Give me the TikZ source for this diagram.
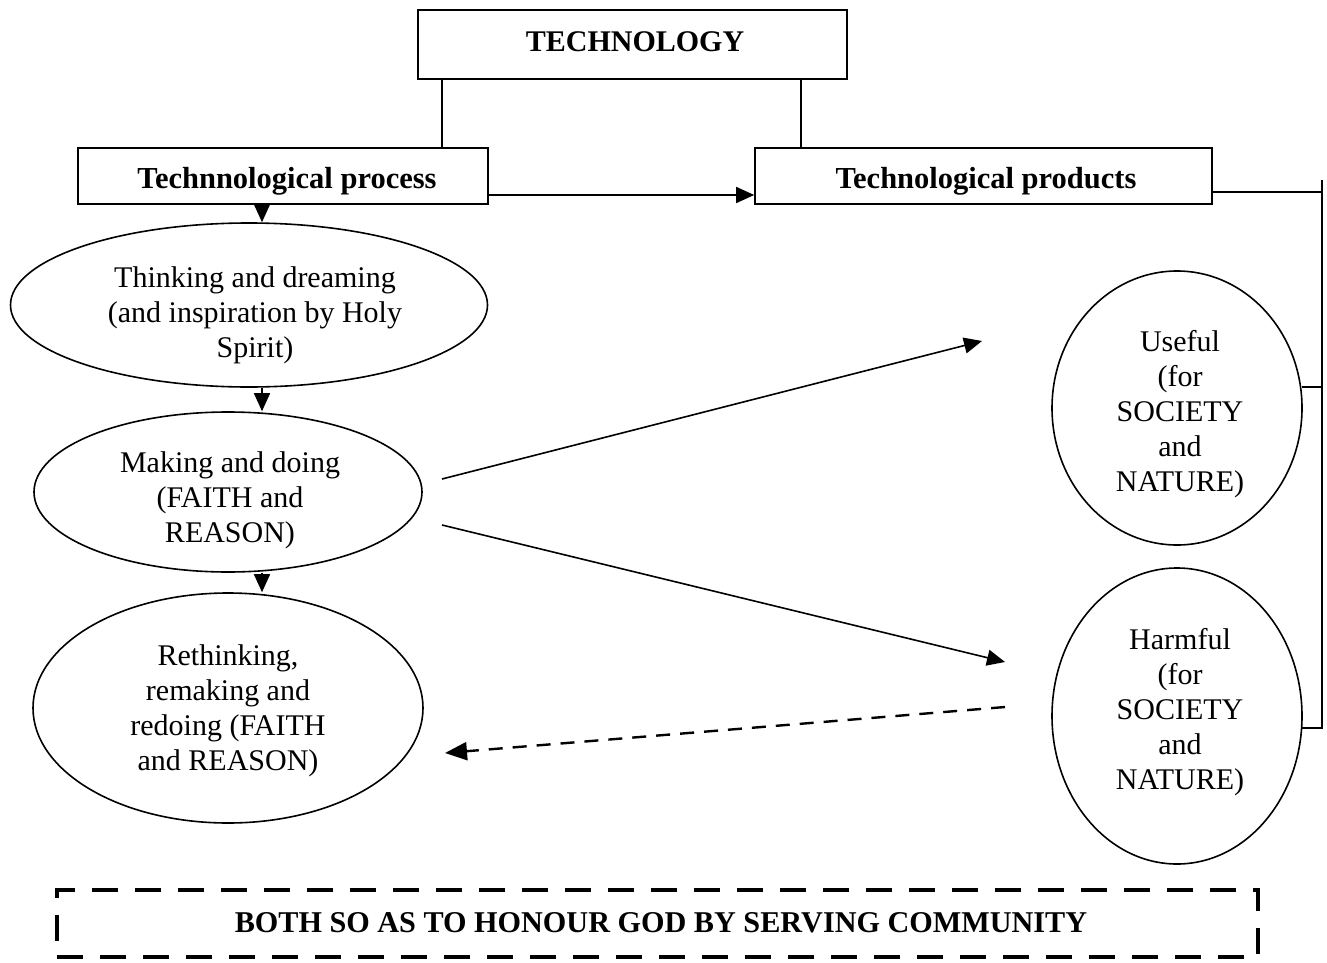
\documentclass[tikz,border=0pt]{standalone}
\usepackage{fontspec}
\setmainfont{Liberation Serif}
\usetikzlibrary{arrows.meta,shapes.geometric}
\begin{document}
\begin{tikzpicture}[x=1pt,y=-1pt,
  every node/.style={font=\fontsize{30}{35}\selectfont},
  txt/.style={align=center,inner sep=0pt},
  ln/.style={line width=1.6pt},
  boxn/.style={draw,line width=1.6pt,inner sep=0pt},
  btxt/.style={inner sep=0pt,font=\fontsize{30.5}{35}\selectfont\bfseries},
  ell/.style={draw,ellipse,line width=1.6pt,inner sep=0pt},
  arr/.style={line width=1.6pt,-{Triangle[length=18pt,width=16pt]}},
  darr/.style={line width=2.4pt,dash pattern=on 14pt off 10pt,-{Triangle[length=22pt,width=18pt]}}]
\useasboundingbox (0,0) rectangle (1327,963);
\node[boxn,minimum width=429pt,minimum height=69pt] (tech) at (632.5,44.5) {};
\node[btxt,font=\fontsize{30}{35}\selectfont\bfseries] (techt) at (635,42) {TECHNOLOGY};
\node[boxn,minimum width=410pt,minimum height=56pt] (proc) at (283,176) {};
\node[btxt] (proct) at (287,181) {Technnological process};
\node[boxn,minimum width=457pt,minimum height=56pt] (prod) at (983.5,176) {};
\node[btxt] (prodt) at (986,181) {Technological products};
\node[ell,minimum width=477pt,minimum height=164pt] (e1) at (249,305) {};
\node[txt] (e1t) at (255,315) {Thinking and dreaming\\(and inspiration by Holy\\Spirit)};
\node[ell,minimum width=388pt,minimum height=160pt] (e2) at (228,492) {};
\node[txt] (e2t) at (230,500) {Making and doing\\(FAITH and\\REASON)};
\node[ell,minimum width=390pt,minimum height=230pt] (e3) at (228,708) {};
\node[txt] (e3t) at (228,711) {Rethinking,\\remaking and\\redoing (FAITH\\and REASON)};
\node[ell,minimum width=250pt,minimum height=274pt] (use) at (1177,408) {};
\node[txt] (uset) at (1180,414) {Useful\\(for\\SOCIETY\\and\\NATURE)};
\node[ell,minimum width=250pt,minimum height=296pt] (harm) at (1177,716) {};
\node[txt] (harmt) at (1180,712) {Harmful\\(for\\SOCIETY\\and\\NATURE)};
\node[draw,line width=4pt,dash pattern=on 26pt off 17pt,minimum width=1201pt,minimum height=67pt,inner sep=0pt] (both) at (657.5,923.5) {};
\node[btxt,font=\fontsize{30.2}{35}\selectfont\bfseries] (botht) at (661,923) {BOTH SO AS TO HONOUR GOD BY SERVING COMMUNITY};
% technology to branches
\draw[ln] ([xshift=25pt]tech.south west) -- ([xshift=25pt]tech.south west |- proc.north);
\draw[ln] ([xshift=-47pt]tech.south east) -- ([xshift=-47pt]tech.south east |- prod.north);
\draw[arr] ([yshift=-19pt]proc.east) -- ([yshift=-19pt]prod.west);
% vertical chain
\draw[arr] ([xshift=-21pt]proc.south) -- ([xshift=-21pt]proc.south |- e1.north);
\draw[arr] ([xshift=13pt]e1.south) -- ([xshift=13pt]e1.south |- e2.north);
\draw[arr] ([xshift=34pt]e2.south) -- ([xshift=34pt]e2.south |- e3.north);
% bracket on right
\coordinate (brA) at (1322,180);
\coordinate (brB) at (1322,728);
\coordinate (brU) at (1322,387);
\draw[ln] ([yshift=-16pt]prod.east) -- (brA |- 0,192);
\draw[ln] (brA) -- (brB) -- (1301,728);
\draw[ln] (brU) -- (1302,387);
% slanted arrows
\coordinate (a1s) at (442,479);
\coordinate (a1e) at (982,341);
\coordinate (a2s) at (442,525);
\coordinate (a2e) at (1005,662);
\coordinate (a3s) at (1005,707);
\coordinate (a3e) at (445,753);
\draw[arr] (a1s) -- (a1e);
\draw[arr] (a2s) -- (a2e);
\draw[darr] (a3s) -- (a3e);
\end{tikzpicture}
\end{document}
